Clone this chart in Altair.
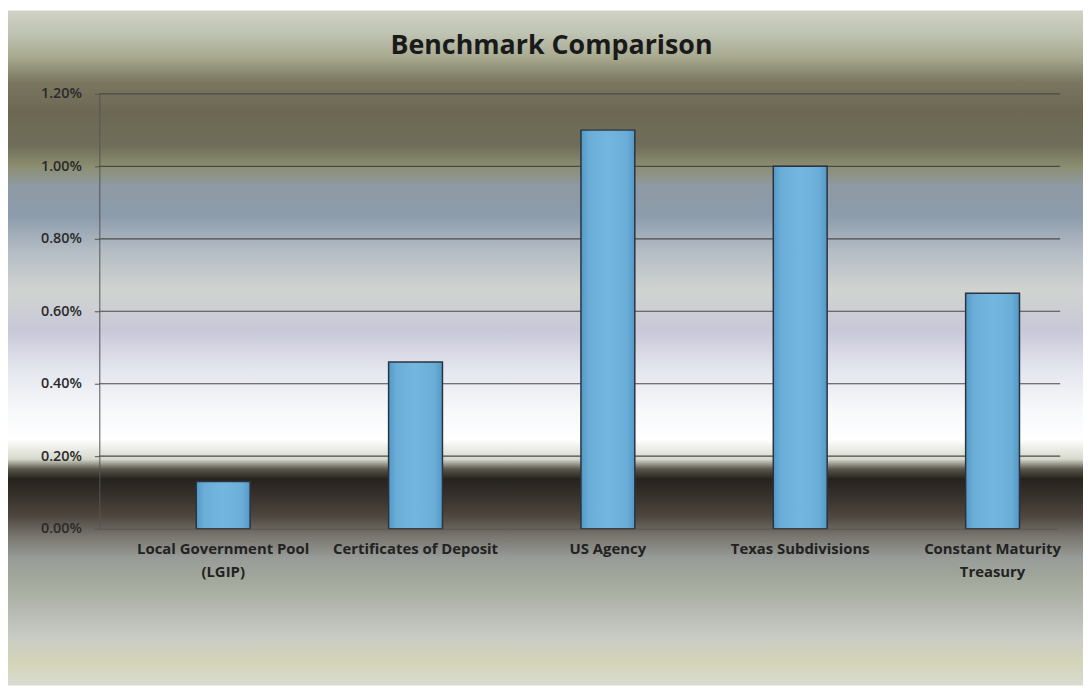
import altair as alt
import pandas as pd

categories = ["Local Government Pool (LGIP)", "Certificates of Deposit", "US Agency",
              "Texas Subdivisions", "Constant Maturity Treasury"]
values = [0.0013, 0.0046, 0.0110, 0.0100, 0.0065]
label_lines = {
    "Local Government Pool (LGIP)": ["Local Government Pool", "(LGIP)"],
    "Constant Maturity Treasury": ["Constant Maturity", "Treasury"],
}
y_ticks = [0.0, 0.002, 0.004, 0.006, 0.008, 0.010, 0.012]
title_text = "Benchmark Comparison"

df = pd.DataFrame({"category": categories, "value": values})
grid_df = pd.DataFrame({"tick": y_ticks[1:]})

W, H = 965, 438
PAD = {"left": 92, "top": 84, "right": 26, "bottom": 158}

# background metallic gradient (page y -> colour)
bg_stops = [
    (8, "#d0d2c4"), (30, "#c0c4b4"), (55, "#a8aa90"), (80, "#7a7660"),
    (110, "#6c6854"), (145, "#706e5a"), (165, "#8c8e70"), (185, "#8e9aa4"),
    (215, "#8c9cac"), (250, "#b4bcc4"), (290, "#d0d4d0"), (330, "#c8c8d8"),
    (370, "#e4e6ee"), (410, "#f6f8fa"), (440, "#ffffff"), (460, "#d6d8cc"),
    (470, "#5a564c"), (480, "#26221e"), (500, "#3a342e"), (518, "#4e4840"),
    (538, "#7a7670"), (560, "#989c98"), (585, "#a4aa9c"), (610, "#b4b8b0"),
    (640, "#c8ccc4"), (665, "#d4d4b8"), (688, "#d8dcd0"),
]
bg_gradient = {
    "gradient": "linear", "x1": 0, "y1": 0, "x2": 0, "y2": 1,
    "stops": [{"offset": (py - 8) / 680, "color": c} for py, c in bg_stops],
}
bar_gradient = {
    "gradient": "linear", "x1": 0, "y1": 0, "x2": 1, "y2": 0,
    "stops": [
        {"offset": 0.0, "color": "#5598c6"},
        {"offset": 0.15, "color": "#6aaed8"},
        {"offset": 0.5, "color": "#74b6de"},
        {"offset": 0.85, "color": "#6aaed8"},
        {"offset": 1.0, "color": "#5598c6"},
    ],
}

label_expr = " : ".join(
    [f"datum.label == '{k}' ? {v}" for k, v in label_lines.items()]
) + " : datum.label"

xscale = alt.Scale(domain=categories, paddingInner=0.72, paddingOuter=0.35, align=0.72)
yscale = alt.Scale(domain=[0, 0.012], nice=False)

background = alt.Chart(pd.DataFrame({"a": [0]})).mark_rect(
    fill=bg_gradient, strokeWidth=0
).encode(
    x=alt.value(-PAD["left"]), x2=alt.value(W + PAD["right"]),
    y=alt.value(-PAD["top"]), y2=alt.value(H + PAD["bottom"]),
)

grid = alt.Chart(grid_df).mark_rule(color="#4a4a4a", strokeWidth=1.2).encode(
    y=alt.Y("tick:Q", scale=yscale),
    x=alt.value(0), x2=alt.value(W + 3),
)

bars = alt.Chart(df).mark_bar(
    fill=bar_gradient, stroke="#2a3440", strokeWidth=1.5
).encode(
    x=alt.X("category:N", scale=xscale, sort=categories,
            axis=alt.Axis(title=None, labelAngle=0, ticks=False, domain=True,
                          domainColor="#5a5650", domainWidth=1, zindex=1,
                          labelExpr=label_expr, labelPadding=13,
                          labelFont="Open Sans", labelFontSize=15,
                          labelFontWeight="bold", labelColor="#222222",
                          labelLineHeight=23, labelLimit=300)),
    y=alt.Y("value:Q", scale=yscale,
            axis=alt.Axis(title=None, values=y_ticks, format=".2%", grid=False,
                          domainColor="#555555", domainWidth=1, zindex=1,
                          tickColor="#555555", tickSize=5, labelPadding=13,
                          labelFont="Open Sans", labelFontSize=14.5,
                          labelFontWeight=600, labelColor="#2a2a2a")),
)

chart = alt.layer(background, grid, bars).properties(
    width=W, height=H,
    padding=PAD,
    autosize=alt.AutoSizeParams(type="none"),
    background="#ffffff",
    title=alt.TitleParams(title_text, font="Open Sans", fontSize=27,
                          fontWeight="bold", color="#1a1a1a", zindex=1,
                          frame="group", anchor="middle", dx=-27, dy=50, offset=0),
).configure_view(stroke=None)

chart.save("out.html", embed_options={"renderer": "svg", "actions": False})
